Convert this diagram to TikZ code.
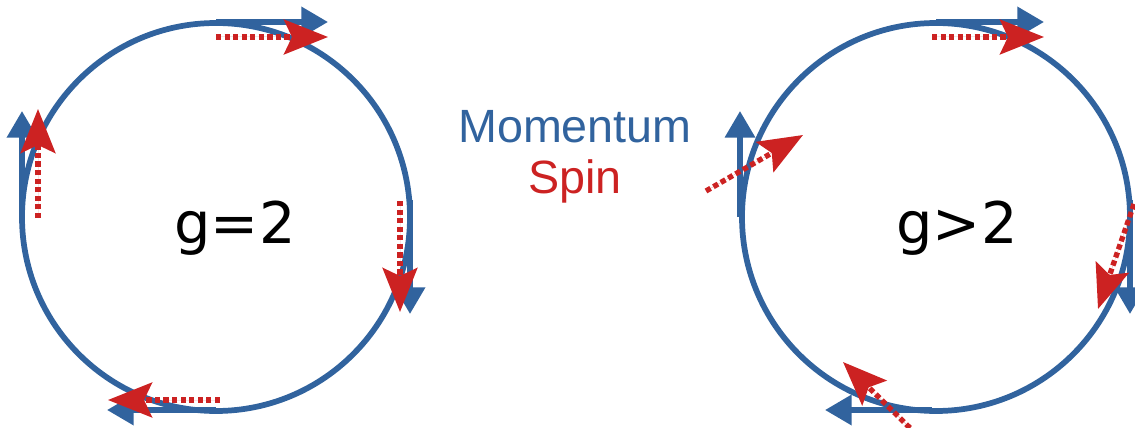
\documentclass[tikz,border=0pt]{standalone}
\usepackage{fontspec}
\setmainfont{DejaVu Sans}
\newfontfamily\labelfont{Liberation Sans}
\usetikzlibrary{arrows.meta}
\definecolor{mblue}{RGB}{49,99,158}
\definecolor{sred}{RGB}{204,34,34}
\begin{document}
\begin{tikzpicture}[x=0.75pt,y=-0.75pt,
  orbit/.style={draw=mblue,line width=4.3pt},
  momentum/.style={draw=mblue,line width=4.3pt,-{Triangle[length=20pt,width=22pt]},fill=mblue},
  spin/.style={draw=sred,line width=4pt,dash pattern=on 4pt off 2.4pt,-{Stealth[length=33pt,width=26pt,inset=6pt]},fill=sred},
  glabel/.style={font=\fontsize{43}{50}\selectfont,text=black,inner sep=0pt},
  legend/.style={font=\labelfont\fontsize{35}{40}\selectfont,inner sep=0pt}]
\path[use as bounding box] (0,0) rectangle (1135,428);
% orbits
\draw[orbit] (216,217) circle[radius=145.5pt];
\draw[orbit] (936,217) circle[radius=145.5pt];
% labels
\node[glabel] (g2) at (235,228) {g=2};
\node[glabel] (g3) at (957,228) {g>2};
\node[legend,text=mblue] (mom) at (575,127) {Momentum};
\node[legend,text=sred] (spn) at (575,181) {Spin};
% left circle coordinates
\coordinate (LTs) at (216,22);  \coordinate (LTe) at (328,22);
\coordinate (LTrs) at (216,37); \coordinate (LTre) at (328,37);
\coordinate (LLs) at (22,217);  \coordinate (LLe) at (22,111);
\coordinate (LLrs) at (38,218); \coordinate (LLre) at (38,109);
\coordinate (LRs) at (410,200); \coordinate (LRe) at (410,314);
\coordinate (LRrs) at (400,201); \coordinate (LRre) at (400,312);
\coordinate (LBs) at (216,410); \coordinate (LBe) at (107,410);
\coordinate (LBrs) at (220,400); \coordinate (LBre) at (108,400);
% right circle coordinates
\coordinate (RTs) at (936,22);  \coordinate (RTe) at (1044,22);
\coordinate (RTrs) at (932,37); \coordinate (RTre) at (1044,37);
\coordinate (RLs) at (740,217); \coordinate (RLe) at (740,111);
\coordinate (RLrs) at (706,191); \coordinate (RLre) at (803,135);
\coordinate (RRs) at (1130,200); \coordinate (RRe) at (1130,314);
\coordinate (RRrs) at (1134,204); \coordinate (RRre) at (1098,309);
\coordinate (RBs) at (932,410); \coordinate (RBe) at (825,410);
\coordinate (RBrs) at (910,428); \coordinate (RBre) at (843,362);
% momentum arrows
\foreach \a in {LT,LL,LR,LB,RT,RL,RR,RB}{\draw[momentum] (\a s) -- (\a e);}
% spin arrows
\foreach \a in {LT,LL,LR,LB,RT,RL,RR,RB}{\draw[spin] (\a rs) -- (\a re);}
\end{tikzpicture}
\end{document}
